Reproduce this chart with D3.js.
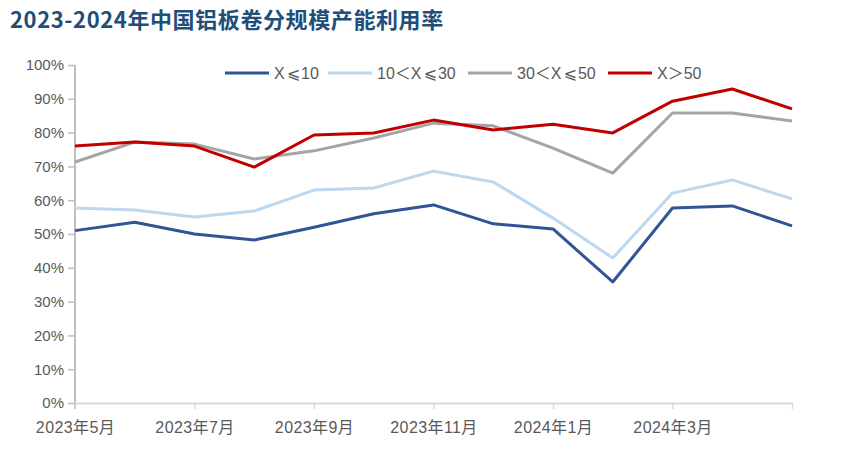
<!DOCTYPE html>
<html><head><meta charset="utf-8">
<script src="https://cdn.jsdelivr.net/npm/d3@7"></script>
<style>body{margin:0;background:#fff;} svg{display:block;}</style>
</head><body>
<svg id="c" width="855" height="460"></svg>
<script>
const months = ["2023年5月","2023年6月","2023年7月","2023年8月","2023年9月","2023年10月","2023年11月","2023年12月","2024年1月","2024年2月","2024年3月","2024年4月","2024年5月"];
const tickLabels = ["2023年5月","2023年7月","2023年9月","2023年11月","2024年1月","2024年3月"];
const seriesNames = ["X⩽10","10＜X⩽30","30＜X⩽50","X＞50"];
const s1 = [51.0,53.5,50.0,48.2,52.0,56.0,58.6,53.0,51.5,35.8,57.7,58.3,52.4];
const s2 = [57.7,57.1,55.0,56.8,63.0,63.6,68.6,65.4,54.7,42.9,62.1,66.0,60.4];
const s3 = [71.3,77.2,76.6,72.2,74.6,78.4,82.8,82.0,75.4,68.0,85.8,85.8,83.4];
const s4 = [76.0,77.2,76.0,69.8,79.3,79.9,83.7,80.8,82.5,79.9,89.3,92.9,87.0];
const yTicks = [0,10,20,30,40,50,60,70,80,90,100];
const colors = ["#2F5597","#BDD7EE","#A5A5A5","#C00000"];

const svg = d3.select("#c");
const L = 75, R = 792, T = 65, B = 403;
const x = d3.scalePoint().domain(months).range([L, R]);
const y = d3.scaleLinear().domain([0, 100]).range([B, T]);
const font = "'Liberation Sans', Arial, 'Noto Sans CJK SC', sans-serif";

svg.append("text").attr("x", 10).attr("y", 28)
  .attr("font-family", "'Noto Sans CJK SC', sans-serif").attr("font-weight", "bold")
  .attr("font-size", 22).attr("letter-spacing", 0.6).attr("fill", "#1F4E79")
  .text("2023-2024年中国铝板卷分规模产能利用率");

// y axis
const ya = svg.append("g").attr("transform", `translate(${L},0)`)
  .call(d3.axisLeft(y).tickValues(yTicks).tickFormat(d => d + "%").tickSize(7).tickSizeOuter(0));
ya.select(".domain").attr("stroke", "#BFBFBF").attr("stroke-width", 2).attr("d", `M0,${T}V${B+6}`);
ya.selectAll(".tick line").attr("stroke", "#BFBFBF").attr("stroke-width", 1.5);
ya.selectAll(".tick text").attr("font-family", font).attr("font-size", 15).attr("fill", "#595959").attr("x", -11);

// x axis
const tickMonths = months.filter((d, i) => i % 2 === 0);
const xa = svg.append("g").attr("transform", `translate(0,${B})`)
  .call(d3.axisBottom(x).tickValues(tickMonths).tickSize(6).tickSizeOuter(0)
    .tickFormat(d => tickLabels.includes(d) ? d : ""));
xa.select(".domain").attr("stroke", "#D9D9D9").attr("stroke-width", 2);
xa.selectAll(".tick line").attr("stroke", "#D9D9D9").attr("stroke-width", 1.5);
xa.selectAll(".tick text").attr("font-family", font).attr("font-size", 16).attr("letter-spacing", 0.4)
  .attr("fill", "#595959").attr("y", 16).attr("dy", "0.9em");

// lines
const line = d3.line().x((d, i) => x(months[i])).y(d => y(d));
[s1, s2, s3, s4].forEach((s, k) => {
  svg.append("path").datum(s).attr("d", line).attr("fill", "none")
    .attr("stroke", colors[k]).attr("stroke-width", 3).attr("stroke-linejoin", "round");
});

// legend
const legX = [225, 328, 468, 608];
const lg = svg.append("g");
seriesNames.forEach((n, k) => {
  lg.append("line").attr("x1", legX[k]).attr("x2", legX[k] + 44).attr("y1", 73).attr("y2", 73)
    .attr("stroke", colors[k]).attr("stroke-width", 3);
  const t = lg.append("text").attr("x", legX[k] + 49).attr("y", 79).attr("font-family", font)
    .attr("font-size", 16).attr("fill", "#595959");
  let pad = false;
  Array.from(n).forEach(ch => {
    if (ch === "⩽") {
      t.append("tspan").attr("dx", 2).attr("font-family", "'DejaVu Sans', sans-serif").attr("font-size", 16).text(ch);
      pad = true;
    } else if (ch === "＜" || ch === "＞") {
      t.append("tspan").attr("font-family", "'Noto Sans CJK SC', sans-serif").text(ch);
    } else {
      t.append("tspan").attr("dx", pad ? 1 : 0).text(ch);
      pad = false;
    }
  });
});
</script>
</body></html>
